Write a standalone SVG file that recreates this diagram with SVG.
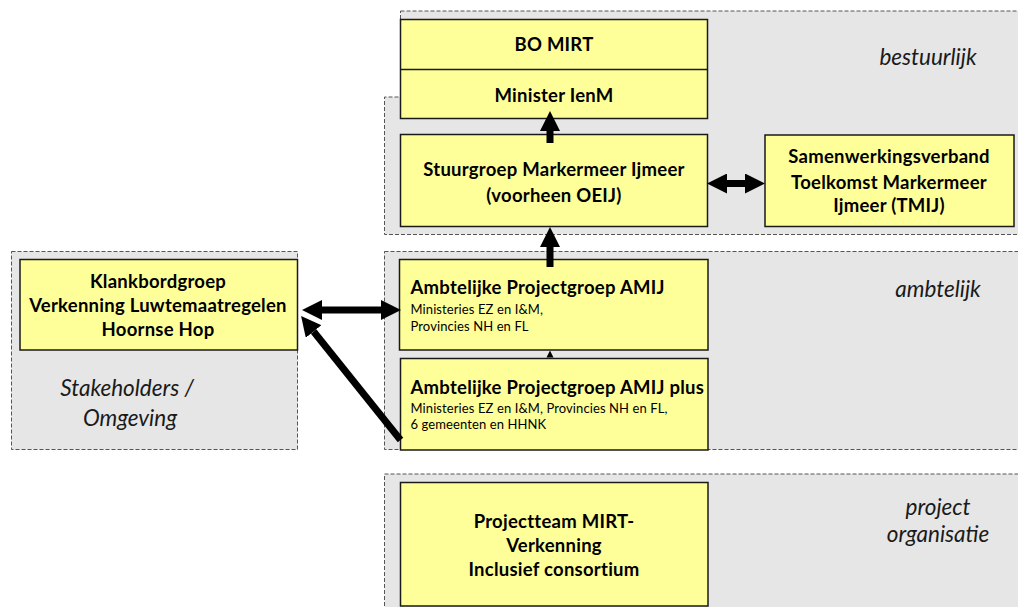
<svg xmlns="http://www.w3.org/2000/svg" width="1018" height="607" viewBox="0 0 1018 607">
  <style>
    .region { fill: #e6e6e6; stroke: #555; stroke-width: 1; stroke-dasharray: 4 2; }
    .box { fill: #ffff99; stroke: #1a1a1a; stroke-width: 1.5; }
    .t { font-family: Lato, "Liberation Sans", sans-serif; font-weight: bold; font-size: 18.5px; letter-spacing: 0.25px; fill: #000; text-anchor: middle; }
    .tl { font-family: Lato, "Liberation Sans", sans-serif; font-weight: bold; font-size: 18.5px; letter-spacing: 0.25px; fill: #000; }
    .sub { font-family: Lato, "Liberation Sans", sans-serif; font-size: 13px; letter-spacing: 0.1px; fill: #000; }
    .lbl { font-family: Lato, "Liberation Sans", sans-serif; font-style: italic; font-size: 22.5px; fill: #1a1a1a; text-anchor: middle; }
    .conn { stroke: #000; stroke-width: 7; fill: none; }
  </style>
  <defs>
    <marker id="ah" markerUnits="userSpaceOnUse" markerWidth="20" markerHeight="20" refX="0" refY="10" orient="auto-start-reverse" viewBox="0 0 20 20">
      <path d="M0,0 L20,10 L0,20 Z" fill="#000"/>
    </marker>
  </defs>

  <!-- regions -->
  <g id="region-bestuurlijk">
    <path class="region" d="M400.5,11 H1020 V234.5 H384.5 V97 H400.5 Z"/>
    <text class="lbl" x="928" y="65">bestuurlijk</text>
  </g>
  <g id="region-ambtelijk">
    <rect class="region" x="384.5" y="251.5" width="640" height="198"/>
    <text class="lbl" x="938" y="297">ambtelijk</text>
  </g>
  <g id="region-stakeholders">
    <rect class="region" x="11.5" y="251.5" width="286" height="198"/>
    <text class="lbl" x="127" y="396">Stakeholders /</text>
    <text class="lbl" x="130" y="426">Omgeving</text>
  </g>
  <g id="region-project">
    <rect class="region" x="384.5" y="474" width="640" height="140"/>
    <text class="lbl" x="938" y="515">project</text>
    <text class="lbl" x="938" y="542">organisatie</text>
  </g>

  <!-- nodes -->
  <g id="node-bomirt">
    <rect class="box" x="400.5" y="19.5" width="307" height="99"/>
    <line x1="400.5" y1="69.5" x2="707.5" y2="69.5" stroke="#1a1a1a" stroke-width="1.5"/>
    <text class="t" x="554" y="51">BO MIRT</text>
    <text class="t" x="554" y="102">Minister IenM</text>
  </g>
  <g id="node-stuurgroep">
    <rect class="box" x="400.5" y="134.5" width="307" height="92"/>
    <text class="t" x="554" y="175.5">Stuurgroep Markermeer Ijmeer</text>
    <text class="t" x="554" y="201.5">(voorheen OEIJ)</text>
  </g>
  <g id="node-tmij">
    <rect class="box" x="765" y="135" width="249" height="91.5"/>
    <text class="t" x="889" y="162.5">Samenwerkingsverband</text>
    <text class="t" x="889" y="188.5">Toelkomst Markermeer</text>
    <text class="t" x="889" y="211.5">Ijmeer (TMIJ)</text>
  </g>
  <g id="node-klankbord">
    <rect class="box" x="20" y="259.5" width="277.5" height="90.5"/>
    <text class="t" x="158" y="288">Klankbordgroep</text>
    <text class="t" x="158" y="311.5">Verkenning Luwtemaatregelen</text>
    <text class="t" x="158" y="335.5">Hoornse Hop</text>
  </g>
  <g id="node-amij">
    <rect class="box" x="399.5" y="259.5" width="308.5" height="90.5"/>
    <text class="tl" x="410.5" y="294">Ambtelijke Projectgroep AMIJ</text>
    <text class="sub" x="410.5" y="314">Ministeries EZ en I&amp;M,</text>
    <text class="sub" x="410.5" y="331">Provincies NH en FL</text>
  </g>
  <g id="node-amijplus">
    <rect class="box" x="400.5" y="358.5" width="307.5" height="91.5"/>
    <text class="tl" x="410.5" y="394">Ambtelijke Projectgroep AMIJ plus</text>
    <text class="sub" x="410.5" y="413">Ministeries EZ en I&amp;M, Provincies NH en FL,</text>
    <text class="sub" x="410.5" y="429">6 gemeenten en HHNK</text>
  </g>
  <g id="node-projectteam">
    <rect class="box" x="400.5" y="482.5" width="307.5" height="123.5"/>
    <text class="t" x="554" y="528">Projectteam MIRT-</text>
    <text class="t" x="554" y="552">Verkenning</text>
    <text class="t" x="554" y="575.5">Inclusief consortium</text>
  </g>

  <!-- connectors -->
  <g id="connectors">
    <line class="conn" x1="550" y1="143" x2="550" y2="131" marker-end="url(#ah)"/>
    <line class="conn" x1="550" y1="267" x2="550" y2="247" marker-end="url(#ah)"/>
    <polygon points="550,350.5 546.5,357.5 553.5,357.5" fill="#000"/>
    <line class="conn" x1="727" y1="183.5" x2="745" y2="183.5" marker-start="url(#ah)" marker-end="url(#ah)"/>
    <line class="conn" x1="322" y1="310" x2="381" y2="310" marker-start="url(#ah)" marker-end="url(#ah)"/>
    <line class="conn" x1="400.5" y1="440" x2="313.6" y2="331.5" marker-end="url(#ah)"/>
  </g>
</svg>
